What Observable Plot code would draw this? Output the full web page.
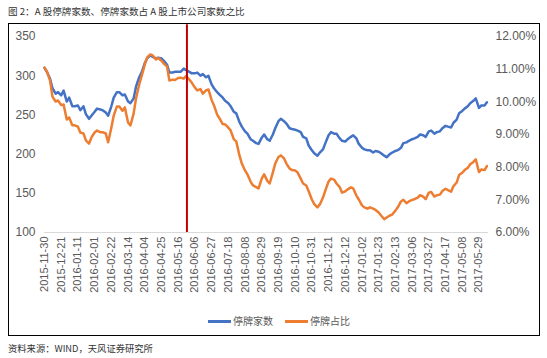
<!DOCTYPE html>
<html><head><meta charset="utf-8">
<script src="https://cdn.jsdelivr.net/npm/d3@7"></script>
<script src="https://cdn.jsdelivr.net/npm/@observablehq/plot@0.6"></script>
<style>
body{margin:0;background:#fff;width:547px;height:358px;position:relative;overflow:hidden;font-family:"Liberation Sans",Arial,"Noto Sans CJK SC",sans-serif;}
#title{position:absolute;left:8px;top:4px;font-size:9.6px;color:#333;font-family:"Noto Sans CJK SC","Liberation Sans",sans-serif;white-space:nowrap;}
#box{position:absolute;left:8px;top:23px;width:532px;height:313px;border:1px solid #000;box-sizing:border-box;}
#chart{position:absolute;left:0;top:0;}
.lg{position:absolute;font-size:10px;color:#595959;font-family:"Noto Sans CJK SC",sans-serif;white-space:nowrap;}
.sw{position:absolute;height:2.5px;}
#source{position:absolute;left:8px;top:341px;font-size:9.3px;color:#333;font-family:"Noto Sans CJK SC","Liberation Sans",sans-serif;white-space:nowrap;}
</style>
</head><body>
<div id="title">图 2：A 股停牌家数、停牌家数占 A 股上市公司家数之比</div>
<div id="box"></div>
<div id="chart"></div>
<div class="sw" style="left:208px;top:320px;width:23px;background:#4472C4"></div>
<div class="lg" style="left:233px;top:313px">停牌家数</div>
<div class="sw" style="left:285px;top:320px;width:23px;background:#ED7D31"></div>
<div class="lg" style="left:310px;top:313px">停牌占比</div>
<div id="source">资料来源：WIND，天风证券研究所</div>
<script>
const dates = [
"2015-11-30","2015-12-03","2015-12-07","2015-12-10","2015-12-14","2015-12-17","2015-12-21","2015-12-24","2015-12-28","2015-12-31",
"2016-01-04","2016-01-07","2016-01-11","2016-01-14","2016-01-18","2016-01-21","2016-01-25","2016-01-28","2016-02-01","2016-02-04",
"2016-02-08","2016-02-11","2016-02-15","2016-02-18","2016-02-22","2016-02-25","2016-02-29","2016-03-03","2016-03-07","2016-03-10",
"2016-03-14","2016-03-17","2016-03-21","2016-03-24","2016-03-28","2016-03-31","2016-04-04","2016-04-07","2016-04-11","2016-04-14",
"2016-04-18","2016-04-21","2016-04-25","2016-04-28","2016-05-02","2016-05-05","2016-05-09","2016-05-12","2016-05-16","2016-05-19",
"2016-05-23","2016-05-26","2016-05-30","2016-06-02","2016-06-06","2016-06-09","2016-06-13","2016-06-16","2016-06-20","2016-06-23",
"2016-06-27","2016-06-30","2016-07-04","2016-07-07","2016-07-11","2016-07-14","2016-07-18","2016-07-21","2016-07-25","2016-07-28",
"2016-08-01","2016-08-04","2016-08-08","2016-08-11","2016-08-15","2016-08-18","2016-08-22","2016-08-25","2016-08-29","2016-09-01",
"2016-09-05","2016-09-08","2016-09-12","2016-09-15","2016-09-19","2016-09-22","2016-09-26","2016-09-29","2016-10-03","2016-10-06",
"2016-10-10","2016-10-13","2016-10-17","2016-10-20","2016-10-24","2016-10-27","2016-10-31","2016-11-03","2016-11-07","2016-11-10",
"2016-11-14","2016-11-17","2016-11-21","2016-11-24","2016-11-28","2016-12-01","2016-12-05","2016-12-08","2016-12-12","2016-12-15",
"2016-12-19","2016-12-22","2016-12-26","2016-12-29","2017-01-02","2017-01-05","2017-01-09","2017-01-12","2017-01-16","2017-01-19",
"2017-01-23","2017-01-26","2017-01-30","2017-02-02","2017-02-06","2017-02-09","2017-02-13","2017-02-16","2017-02-20","2017-02-23",
"2017-02-27","2017-03-02","2017-03-06","2017-03-09","2017-03-13","2017-03-16","2017-03-20","2017-03-23","2017-03-27","2017-03-30",
"2017-04-03","2017-04-06","2017-04-10","2017-04-13","2017-04-17","2017-04-20","2017-04-24","2017-04-27","2017-05-01","2017-05-04",
"2017-05-08","2017-05-11","2017-05-15","2017-05-18","2017-05-22","2017-05-25","2017-05-29","2017-06-01","2017-06-05","2017-06-08"];

// 停牌家数 (left axis)
const counts = [
310,305,296,284,277,279,275,281,267,272,
261,261,262,256,261,251,245,249,254,258,
257,256,253,249,261,272,279,279,275,276,
267,265,271,286,298,304,316,322,326,324,
322,323,322,319,314,304,304,305,305,305,
309,307,305,303,303,304,300,302,298,300,
289,284,279,276,272,268,265,261,254,252,
241,235,229,226,219,217,214,213,221,225,
219,217,225,233,242,245,242,239,233,232,
231,230,228,222,220,211,205,201,198,202,
206,214,224,228,226,226,220,217,216,219,
222,224,220,213,208,206,205,205,202,204,
203,201,198,196,200,202,204,205,208,214,
215,217,219,220,222,225,224,222,229,230,
226,228,229,233,236,235,234,240,244,252,
255,258,261,265,268,271,259,262,262,266];

// 停牌占比 (right axis, %)
const ratios = [
11.05,10.93,10.65,10.16,10.01,10.04,9.90,9.92,9.46,9.52,
9.28,9.28,9.24,9.06,9.03,8.82,8.72,8.91,9.06,9.12,
9.07,9.07,9.03,8.76,9.21,9.58,9.86,9.86,9.73,9.83,
9.37,9.28,9.64,10.10,10.53,10.78,11.14,11.36,11.45,11.42,
11.30,11.34,11.26,11.17,11.08,10.65,10.68,10.67,10.73,10.74,
10.71,10.79,10.68,10.59,10.44,10.35,10.39,10.25,10.35,10.38,
10.06,9.89,9.61,9.49,9.32,9.31,9.21,9.12,8.85,8.79,
8.36,8.11,7.90,7.78,7.56,7.44,7.39,7.35,7.65,7.78,
7.58,7.50,7.84,8.11,8.31,8.36,8.27,8.11,7.96,7.91,
7.90,7.84,7.65,7.50,7.44,7.26,7.01,6.87,6.77,6.86,
7.07,7.29,7.56,7.65,7.62,7.50,7.39,7.22,7.26,7.32,
7.38,7.35,7.13,7.01,6.83,6.77,6.73,6.77,6.73,6.69,
6.61,6.52,6.41,6.46,6.52,6.55,6.67,6.77,6.95,7.00,
6.90,6.95,7.00,7.02,7.07,7.14,7.10,7.02,7.22,7.24,
7.10,7.14,7.16,7.27,7.34,7.30,7.25,7.42,7.53,7.76,
7.83,7.91,7.98,8.09,8.16,8.24,7.85,7.93,7.91,8.03];

const xTickLabels = ["2015-11-30","2015-12-21","2016-01-11","2016-02-01","2016-02-22","2016-03-14","2016-04-04","2016-04-25","2016-05-16","2016-06-06","2016-06-27","2016-07-18","2016-08-08","2016-08-29","2016-09-19","2016-10-10","2016-10-31","2016-11-21","2016-12-12","2017-01-02","2017-01-23","2017-02-13","2017-03-06","2017-03-27","2017-04-17","2017-05-08","2017-05-29"];
const leftTicks = [100,150,200,250,300,350];
const rightTicks = [6,7,8,9,10,11,12];
const eventDate = "2016-05-27";
const seriesNames = ["停牌家数","停牌占比"];

const leftMin = 100, leftMax = 350, rightMin = 6, rightMax = 12;
const toLeft = p => leftMin + (p - rightMin) * (leftMax - leftMin) / (rightMax - rightMin);
const parse = s => new Date(s + "T00:00:00Z");

const countData = dates.map((d, i) => ({date: parse(d), v: counts[i]}));
const ratioData = dates.map((d, i) => ({date: parse(d), v: toLeft(ratios[i])}));

const tickFont = {fontSize: 12, fill: "#595959"};
const chart = Plot.plot({
  width: 547, height: 310,
  marginLeft: 44, marginRight: 59, marginTop: 36, marginBottom: 78,
  style: {fontFamily: '"Liberation Sans", Arial, sans-serif', background: "transparent", overflow: "visible"},
  x: {type: "utc", domain: [parse("2015-11-30"), parse("2017-06-10")]},
  y: {domain: [leftMin, leftMax]},
  marks: [
    Plot.ruleY([leftMin], {stroke: "#d9d9d9", strokeWidth: 1}),
    Plot.axisY(leftTicks, {anchor: "left", tickSize: 0, tickPadding: 9, label: null, ...tickFont}),
    Plot.axisY(rightTicks.map(toLeft), {anchor: "right", tickSize: 0, tickPadding: 7, label: null,
      tickFormat: v => (rightMin + (v - leftMin) * (rightMax - rightMin) / (leftMax - leftMin)).toFixed(2) + "%", ...tickFont}),
    Plot.axisX(xTickLabels.map(parse), {anchor: "bottom", tickSize: 0, tickPadding: 4, tickRotate: -90, label: null,
      tickFormat: d3.utcFormat("%Y-%m-%d"), fontSize: 11, fill: "#595959"}),
    Plot.lineY(countData, {x: "date", y: "v", stroke: "#4472C4", strokeWidth: 2.5, strokeLinejoin: "round"}),
    Plot.lineY(ratioData, {x: "date", y: "v", stroke: "#ED7D31", strokeWidth: 2.5, strokeLinejoin: "round"}),
    Plot.ruleX([parse(eventDate)], {y1: leftMin, y2: 365, stroke: "#C00000", strokeWidth: 2})
  ]
});
document.getElementById("chart").appendChild(chart);
</script>
</body></html>
